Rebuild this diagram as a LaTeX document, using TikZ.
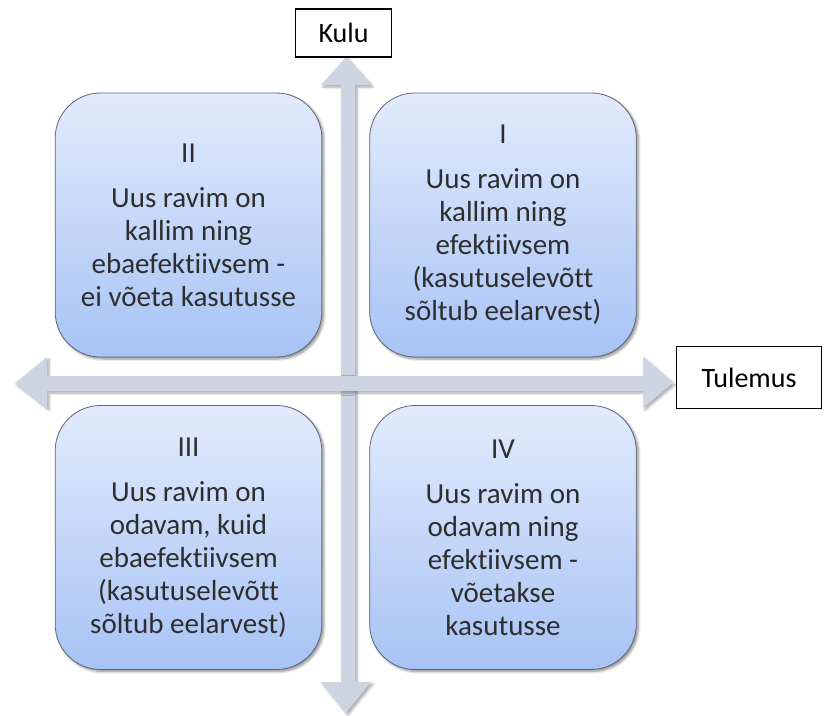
\documentclass[tikz,border=0pt]{standalone}
\usepackage{fontspec}
\setmainfont{Carlito}[Ligatures={NoCommon}]
\usetikzlibrary{shadows.blur}
\definecolor{arrowc}{HTML}{CDD5E3}
\definecolor{boxtop}{HTML}{E2EBFC}
\definecolor{boxbot}{HTML}{A7C3F5}
\definecolor{boxline}{HTML}{5F6677}
\definecolor{txt}{HTML}{2E2E2E}
\tikzset{
  quad/.style={draw=boxline, line width=0.6pt, rounded corners=34pt,
    top color=boxtop, bottom color=boxbot,
    minimum width=200pt, minimum height=198pt, align=center,
    text=txt, font=\fontsize{21.75pt}{24.75pt}\selectfont,
    blur shadow={shadow xshift=1.5pt, shadow yshift=-1.5pt, shadow blur steps=6, shadow opacity=45}},
  axlabel/.style={draw=black, line width=0.9pt, fill=white, text=black,
    font=\fontsize{21pt}{24pt}\selectfont, inner sep=0pt},
  axarrow/.style={fill=arrowc, draw=none,
    blur shadow={shadow xshift=1.5pt, shadow yshift=-1.5pt, shadow blur steps=6, shadow opacity=35}}
}
\begin{document}
\begin{tikzpicture}[x=0.75pt,y=-0.75pt]
\useasboundingbox (0,0) rectangle (827,716);
% axes
\path[axarrow] (341,85) -- (321,85) -- (346,57) -- (371,85) -- (355,85)
  -- (355,682) -- (371,682) -- (346,713) -- (321,682) -- (341,682) -- cycle;
\path[axarrow] (47,376) -- (47,357) -- (15,383) -- (47,408) -- (47,391)
  -- (643,391) -- (643,408) -- (673,383) -- (643,357) -- (643,376) -- cycle;
% boxes
\node[quad] (q2) at (188.5,225) {II\\[9pt]Uus ravim on\\kallim ning\\ebaefektiivsem -\\ei võeta kasutusse};
\node[quad] (q1) at (503,225) {I\\[9pt]Uus ravim on\\kallim ning\\efektiivsem\\(kasutuselevõtt\\sõltub eelarvest)};
\node[quad] (q3) at (188.5,537.5) {III\\[9pt]Uus ravim on\\odavam, kuid\\ebaefektiivsem\\(kasutuselevõtt\\sõltub eelarvest)};
\node[quad] (q4) at (503,537.5) {IV\\[9pt]Uus ravim on\\odavam ning\\efektiivsem -\\võetakse\\kasutusse};
% labels
\node[axlabel, minimum width=72pt, minimum height=36pt] (kulu) at (343.5,33) {Kulu};
\node[axlabel, minimum width=109pt, minimum height=47pt] (tul) at (749,377.5) {Tulemus};
\end{tikzpicture}
\end{document}
